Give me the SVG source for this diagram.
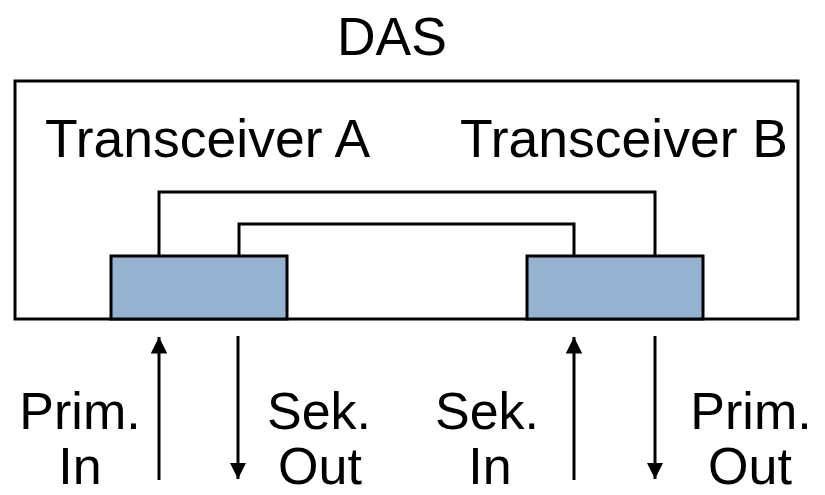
<svg xmlns="http://www.w3.org/2000/svg" width="825" height="495" viewBox="0 0 825 495">
<style>
.t{font-family:"Liberation Sans",Arial,sans-serif;font-size:52px;fill:#000}
.big{font-size:53.5px}
.m{text-anchor:middle}
.ln{fill:none;stroke:#000;stroke-width:3}
.blk{fill:#95B3D1;stroke:#000;stroke-width:3}
.ar{stroke:#000;stroke-width:3;fill:none}
</style>
<defs>
<marker id="ah" viewBox="0 0 10 10" refX="10" refY="5" markerWidth="5.5" markerHeight="5.5" orient="auto" markerUnits="strokeWidth">
<path d="M0,0 L10,5 L0,10 Z" fill="#000"/>
</marker>
</defs>
<g id="das">
<text class="t big m" x="392" y="55">DAS</text>
<rect class="ln" x="15" y="81" width="783" height="238"/>
</g>
<g id="transceiverA">
<text class="t big" x="45" y="157">Transceiver A</text>
<rect class="blk" x="111" y="256" width="176" height="63"/>
</g>
<g id="transceiverB">
<text class="t big" x="460" y="157">Transceiver B</text>
<rect class="blk" x="527" y="256" width="176" height="63"/>
</g>
<g id="connectors">
<path class="ln" d="M159,256 V192 H655 V256"/>
<path class="ln" d="M239,256 V224 H574 V256"/>
<line class="ar" x1="159" y1="480" x2="159" y2="337" marker-end="url(#ah)"/>
<line class="ar" x1="238" y1="336" x2="238" y2="479" marker-end="url(#ah)"/>
<line class="ar" x1="574" y1="480" x2="574" y2="337" marker-end="url(#ah)"/>
<line class="ar" x1="655" y1="336" x2="655" y2="479" marker-end="url(#ah)"/>
</g>
<g id="labels">
<text class="t m" x="80" y="429">Prim.</text>
<text class="t m" x="80" y="484">In</text>
<text class="t m" x="319" y="429">Sek.</text>
<text class="t m" x="320" y="484">Out</text>
<text class="t m" x="487" y="429">Sek.</text>
<text class="t m" x="490" y="484">In</text>
<text class="t m" x="751" y="429">Prim.</text>
<text class="t m" x="750" y="484">Out</text>
</g>
</svg>
